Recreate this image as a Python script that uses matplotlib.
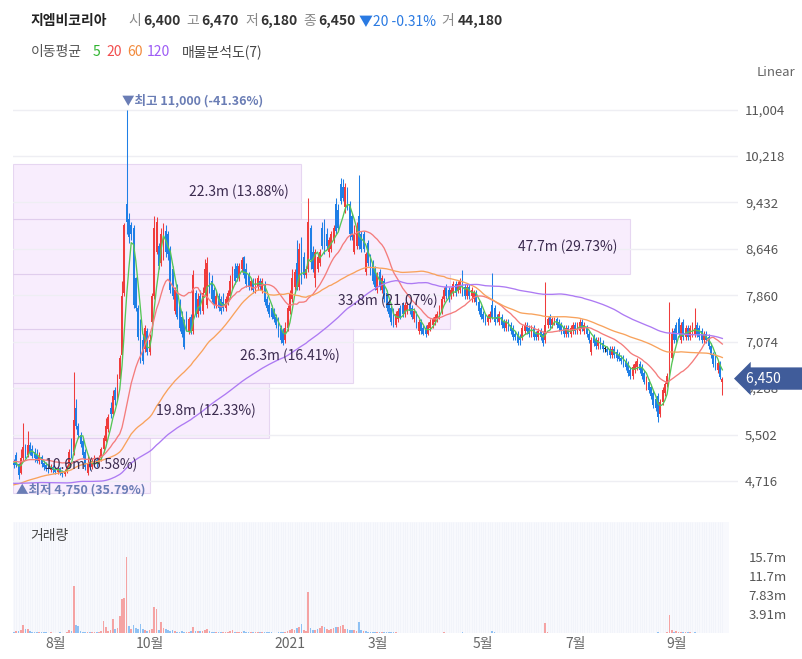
import numpy as np
import pandas as pd
import matplotlib
matplotlib.use("Agg")
import matplotlib.pyplot as plt
import matplotlib.transforms as mtransforms
from matplotlib.patches import Rectangle

plt.rcParams['font.family'] = ['Noto Sans CJK KR', 'DejaVu Sans']

name = "지엠비코리아"

# daily candles, Jul 2020 .. Sep 2021 (one line per month)
opens = [
    5020, 5150, 5000, 4850, 5100, 5300, 5150, 5330, 5250, 5200, 5150, 5060, 5120, 5020, 4980, 4950, 4900, 4960,
    4920, 4870, 4930, 4870, 4830, 4880, 4950, 5400, 5200, 5950, 5650, 5500, 5400, 5200, 4850, 5000, 4950, 5000, 5080, 5000,
    5100, 5250, 5400, 5600, 5950, 5850, 6250, 6100, 6450, 6850, 7900, 9400, 9150, 9050, 9000, 8150, 7650, 7400, 7100, 6950, 7250,
    6900, 7400, 7850, 8600, 8700, 8400, 8500, 8950, 8900, 8650, 8300, 7600, 7950, 7700, 7500, 7400, 7550, 7250, 7500, 7250, 7900, 7550,
    7850, 7600, 7900, 7700, 8200, 8100, 7950, 7700, 7850, 7800, 7750, 7650, 7750, 7850, 8000, 8300, 8350, 8150, 8300, 8500,
    8300, 8200, 8000, 8100, 7950, 8000, 8100, 7950, 8050, 7800, 7700, 7650, 7600, 7500, 7450, 7300, 7250, 7100, 7300,
    7600, 7800, 8000, 8400, 8000, 8750, 8500, 8200, 8300, 9000, 8600, 8150, 8300, 8400, 9000, 9050, 8900, 8600, 8650,
    8800, 9400, 9300, 9750, 9700, 9350, 9600, 9400, 9200, 8600, 8700, 9200, 8900, 8900, 8250, 8750, 8500, 8400, 8300,
    7950, 8250, 7950, 8100, 7900, 7750, 7650, 7600, 7350, 7450, 7650, 7700, 7550, 7600, 7700, 7650, 7450, 7550, 7250, 7400, 7300, 7300, 7200,
    7300, 7350, 7400, 7450, 7500, 7600, 7800, 8000, 7950, 7850, 7900, 8050, 7950, 7950, 8100, 8000, 7850, 8000, 7850, 7800, 7900, 7750, 7650,
    7550, 7500, 7400, 7450, 7700, 7650, 7500, 7400, 7500, 7400, 7300, 7400, 7350, 7300, 7200, 7200, 7150, 7150, 7250, 7350,
    7300, 7200, 7300, 7200, 7150, 7250, 7200, 7100, 7350, 7500, 7350, 7400, 7450, 7400, 7350, 7300, 7200, 7300, 7200, 7250,
    7350, 7250, 7250, 7400, 7250, 7300, 7200, 6900, 7150, 7100, 7000, 7100, 7050, 6950, 6950, 6950, 6850, 6950, 6900, 6850, 6800, 6800,
    6750, 6700, 6600, 6500, 6600, 6650, 6700, 6650, 6550, 6300, 6400, 6300, 6200, 6100, 6150, 5850, 6050, 6200, 6350, 6500, 6800, 7250,
    7350, 7450, 7100, 7400, 7150, 7300, 7150, 7200, 7200, 7350, 7300, 7250, 7100, 7200, 7150, 7000, 6850, 6850, 6600, 6700, 6400,
]
highs = [
    5090, 5200, 5020, 5250, 5700, 5350, 5560, 5380, 5330, 5270, 5250, 5200, 5150, 5080, 5030, 5000, 5000, 4990,
    4950, 4960, 4950, 4900, 4920, 4990, 5250, 5450, 6560, 6100, 5700, 5550, 5450, 5250, 5150, 5050, 5100, 5150, 5120, 5150,
    5300, 5500, 5780, 5850, 6050, 6260, 6300, 6520, 6850, 8100, 9080, 11000, 9250, 9100, 9050, 8170, 7700, 7450, 7200, 7350, 7300,
    7200, 7900, 9200, 9180, 8750, 9000, 9080, 9050, 8950, 8700, 8350, 8000, 8050, 7800, 7600, 7450, 7600, 7500, 7550, 8290, 7950, 7900,
    7950, 8000, 8470, 8500, 8250, 8200, 8000, 7950, 7900, 7850, 7900, 7850, 7950, 8200, 8350, 8400, 8400, 8400, 8500, 8520,
    8400, 8250, 8150, 8150, 8150, 8200, 8150, 8150, 8100, 7850, 7750, 7700, 7650, 7550, 7500, 7350, 7300, 7400, 7700,
    7950, 8300, 8300, 8800, 8750, 8850, 8600, 8350, 9500, 9050, 8700, 8650, 8550, 8650, 9100, 9150, 9000, 8850, 8950,
    9050, 9500, 9400, 9850, 9820, 9760, 9700, 9450, 9250, 9050, 9100, 9900, 8950, 8950, 8600, 8800, 8550, 8450, 8350,
    8250, 8300, 8200, 8150, 7950, 7800, 7700, 7650, 7600, 7650, 7700, 7750, 7750, 7750, 7750, 7700, 7650, 7600, 7450, 7450, 7350, 7350, 7400,
    7450, 7500, 7550, 7600, 7700, 7850, 8000, 8050, 8000, 8000, 8100, 8100, 8100, 8150, 8290, 8050, 8050, 8050, 8000, 7950, 7950, 7800, 7700,
    7600, 7550, 7550, 7600, 8240, 7700, 7550, 7600, 7550, 7450, 7450, 7450, 7400, 7350, 7250, 7250, 7200, 7350, 7400, 7400,
    7350, 7350, 7350, 7250, 7300, 7300, 7250, 8090, 7500, 7550, 7500, 7500, 7500, 7450, 7400, 7350, 7350, 7350, 7350, 7400,
    7400, 7400, 7450, 7450, 7400, 7350, 7250, 7150, 7200, 7150, 7150, 7150, 7100, 7000, 7000, 7000, 7000, 7000, 6950, 6900, 6850, 6850,
    6800, 6750, 6650, 6700, 6750, 6800, 6750, 6700, 6600, 6500, 6450, 6350, 6250, 6150, 6200, 6100, 6300, 6400, 6550, 7740, 7300, 7300,
    7400, 7500, 7400, 7450, 7350, 7350, 7350, 7400, 7640, 7400, 7350, 7300, 7250, 7250, 7200, 7050, 6900, 6900, 6750, 6750, 6470,
]
lows = [
    4930, 4950, 4750, 4830, 5050, 5100, 5120, 5150, 5100, 5030, 5020, 5000, 4960, 4900, 4880, 4860, 4870, 4850,
    4830, 4840, 4820, 4790, 4800, 4850, 4930, 5100, 5150, 5600, 5450, 5300, 5100, 4900, 4820, 4900, 4920, 4970, 4950, 4970,
    5050, 5200, 5380, 5550, 5780, 5820, 6000, 6080, 6400, 6800, 7850, 8900, 8750, 8800, 7650, 7600, 7100, 6720, 6700, 6900, 6850,
    6850, 7350, 7800, 8550, 8300, 8350, 8450, 8500, 8450, 7900, 7800, 7550, 7450, 7250, 7150, 6950, 7250, 7200, 7200, 7200, 7500, 7500,
    7550, 7550, 7850, 7650, 7900, 7750, 7650, 7650, 7600, 7550, 7600, 7600, 7700, 7800, 7950, 8050, 8100, 8100, 8250, 8150,
    8000, 7950, 7950, 7900, 7900, 7950, 7950, 7900, 7700, 7600, 7500, 7450, 7400, 7300, 7150, 7050, 7020, 7050, 7250,
    7550, 7750, 7950, 7950, 7950, 8050, 8150, 8150, 8250, 8300, 8250, 8000, 8250, 8350, 8650, 8550, 8650, 8500, 8600,
    8750, 8900, 8950, 9400, 9450, 9250, 9300, 8800, 8800, 8550, 8650, 8650, 8600, 8600, 8200, 8350, 8200, 8050, 7950,
    7900, 7950, 7900, 7750, 7600, 7500, 7350, 7320, 7320, 7400, 7450, 7500, 7500, 7550, 7550, 7450, 7400, 7300, 7200, 7200, 7180, 7150, 7180,
    7250, 7300, 7350, 7400, 7450, 7550, 7750, 7800, 7750, 7800, 7850, 7850, 7900, 7900, 7850, 7800, 7800, 7800, 7750, 7750, 7700, 7550, 7450,
    7400, 7350, 7350, 7400, 7450, 7350, 7400, 7350, 7300, 7250, 7250, 7250, 7200, 7100, 7100, 7020, 7020, 7100, 7200, 7200,
    7150, 7150, 7100, 7100, 7100, 7100, 7000, 7050, 7300, 7300, 7300, 7350, 7300, 7250, 7200, 7150, 7150, 7150, 7150, 7200,
    7200, 7200, 7200, 7250, 7200, 7150, 7050, 6850, 7000, 6950, 6950, 6950, 6900, 6900, 6850, 6800, 6800, 6800, 6750, 6750, 6700, 6650,
    6600, 6500, 6450, 6450, 6550, 6600, 6550, 6450, 6350, 6250, 6200, 6100, 5950, 5900, 5720, 5800, 6000, 6150, 6300, 6450, 6750, 7050,
    7050, 7150, 7050, 7100, 7100, 7100, 7100, 7150, 7150, 7150, 7100, 7050, 7050, 7050, 6950, 6800, 6650, 6600, 6550, 6450, 6180,
]
closes = [
    4980, 4990, 4820, 5100, 5300, 5150, 5320, 5200, 5140, 5100, 5060, 5130, 5000, 4950, 4920, 4900, 4960, 4900,
    4870, 4920, 4860, 4830, 4890, 4950, 5200, 5150, 5750, 5650, 5500, 5350, 5150, 4950, 5000, 4950, 5050, 5080, 5000, 5100,
    5250, 5450, 5650, 5800, 5850, 6150, 6080, 6450, 6800, 7850, 9050, 9100, 8850, 8900, 7700, 7650, 7150, 6800, 6750, 7300, 6900,
    7100, 7850, 9000, 9100, 8350, 8900, 9000, 8600, 8550, 7950, 7850, 7950, 7500, 7300, 7200, 6980, 7300, 7450, 7250, 8200, 7550, 7800,
    7600, 7900, 8300, 8400, 7950, 7800, 7700, 7850, 7650, 7600, 7650, 7800, 7900, 8100, 8300, 8100, 8150, 8350, 8450, 8200,
    8050, 8000, 8100, 7950, 8100, 8150, 8000, 8100, 7750, 7650, 7550, 7500, 7450, 7350, 7200, 7100, 7050, 7300, 7650,
    7900, 8150, 8250, 8000, 8650, 8100, 8200, 8300, 9100, 8450, 8300, 8600, 8500, 8600, 8700, 8600, 8700, 8800, 8900,
    9000, 8950, 9000, 9450, 9500, 9700, 9350, 8900, 8850, 8900, 9000, 8700, 8650, 8650, 8550, 8400, 8250, 8100, 8000,
    8200, 8000, 8150, 7800, 7650, 7550, 7400, 7350, 7550, 7600, 7500, 7550, 7700, 7700, 7600, 7500, 7600, 7350, 7400, 7250, 7200, 7200, 7350,
    7400, 7450, 7500, 7550, 7650, 7800, 7950, 7850, 7800, 7950, 8050, 7900, 8050, 8100, 7900, 7850, 8000, 7850, 7950, 7900, 7750, 7600, 7500,
    7450, 7400, 7500, 7550, 7500, 7400, 7450, 7550, 7350, 7300, 7400, 7300, 7250, 7150, 7150, 7050, 7100, 7300, 7350, 7250,
    7200, 7300, 7150, 7150, 7250, 7150, 7050, 7350, 7450, 7350, 7450, 7450, 7350, 7300, 7250, 7200, 7300, 7200, 7300, 7350,
    7250, 7350, 7400, 7300, 7350, 7200, 7100, 7100, 7050, 7000, 7100, 7000, 6950, 6950, 6900, 6850, 6950, 6850, 6800, 6780, 6750, 6700,
    6650, 6550, 6500, 6650, 6700, 6750, 6600, 6500, 6400, 6450, 6250, 6150, 6000, 5950, 5800, 6050, 6250, 6350, 6500, 7200, 7200, 7100,
    7100, 7200, 7350, 7150, 7300, 7150, 7300, 7350, 7300, 7200, 7150, 7100, 7200, 7100, 7000, 6850, 6700, 6650, 6720, 6470, 6450,
]
# volume in millions of shares
volumes = [
    0.3, 0.4, 0.5, 0.6, 1.7, 0.8, 0.9, 0.4, 0.3, 0.3, 0.2, 0.3, 0.2, 0.2, 0.2, 0.1, 0.2, 0.1,
    0.1, 0.1, 0.2, 0.1, 0.1, 0.2, 0.6, 0.5, 9.7, 1.6, 1.5, 0.4, 0.3, 0.3, 0.3, 0.2, 0.2, 0.3, 0.2, 0.3,
    0.5, 2.5, 1.2, 0.5, 0.7, 2.8, 0.9, 1.0, 3.5, 7.0, 7.2, 15.7, 1.5, 0.8, 1.6, 1.0, 0.9, 1.9, 0.8, 0.6, 0.5,
    0.6, 0.9, 5.4, 4.9, 0.6, 2.3, 1.0, 0.8, 0.6, 0.5, 0.6, 0.4, 0.3, 0.3, 0.4, 0.3, 0.3, 0.3, 0.4, 1.2, 0.5, 0.4,
    0.4, 0.5, 0.6, 0.8, 0.5, 0.3, 0.3, 0.3, 0.3, 0.2, 0.2, 0.3, 0.3, 0.5, 0.6, 0.3, 0.2, 0.3, 0.3, 0.4,
    0.3, 0.3, 0.2, 0.2, 0.2, 0.2, 0.3, 0.2, 0.2, 0.2, 0.2, 0.2, 0.1, 0.1, 0.2, 0.2, 0.2, 0.3, 0.4,
    0.6, 0.8, 0.6, 1.0, 1.2, 1.8, 0.7, 0.5, 8.5, 1.0, 0.7, 0.6, 0.9, 1.0, 1.5, 1.2, 0.8, 0.6, 0.9,
    1.0, 1.2, 1.2, 1.4, 1.7, 0.8, 0.9, 0.7, 0.6, 0.6, 0.5, 2.3, 0.6, 0.5, 0.4, 0.3, 0.3, 0.3, 0.2,
    0.3, 0.2, 0.2, 0.3, 0.2, 0.2, 0.3, 0.2, 0.2, 0.1, 0.1, 0.1, 0.1, 0.1, 0.1, 0.1, 0.1, 0.1, 0.1, 0.1, 0.1, 0.1, 0.1,
    0.1, 0.1, 0.1, 0.1, 0.1, 0.1, 0.2, 0.1, 0.1, 0.1, 0.1, 0.1, 0.1, 0.1, 0.3, 0.1, 0.1, 0.1, 0.1, 0.1, 0.1, 0.1, 0.1,
    0.1, 0.1, 0.1, 0.1, 0.4, 0.2, 0.1, 0.1, 0.1, 0.1, 0.1, 0.1, 0.1, 0.1, 0.1, 0.1, 0.1, 0.1, 0.1, 0.1,
    0.1, 0.1, 0.1, 0.1, 0.1, 0.1, 0.1, 2.0, 0.3, 0.1, 0.1, 0.1, 0.1, 0.1, 0.1, 0.1, 0.1, 0.1, 0.1, 0.1,
    0.1, 0.1, 0.1, 0.1, 0.1, 0.1, 0.1, 0.1, 0.1, 0.1, 0.1, 0.1, 0.1, 0.1, 0.1, 0.1, 0.1, 0.1, 0.1, 0.1, 0.1, 0.1,
    0.1, 0.1, 0.1, 0.1, 0.1, 0.1, 0.1, 0.1, 0.1, 0.1, 0.1, 0.1, 0.1, 0.1, 0.2, 0.1, 0.1, 0.1, 0.2, 3.8, 0.6, 0.3,
    0.4, 0.3, 0.2, 0.3, 0.2, 0.2, 0.2, 0.1, 0.2, 0.1, 0.1, 0.1, 0.1, 0.1, 0.1, 0.1, 0.1, 0.1, 0.1, 0.1, 0.04418,
]
# closes before the visible window (only feed the moving averages)
prior_closes = [
    4900, 4950, 5000, 4980, 4920, 4960, 5010, 5050, 4990, 4940, 4900, 4930, 4980, 5020, 5060, 5000, 4950, 4910, 4890, 4940,
    4990, 5030, 4980, 4950, 4920, 4970, 5010, 4960, 4930, 4900, 4950, 5000, 5040, 4990, 4950, 4920, 4960, 4980, 4940, 4900,
    4700, 4500, 4300, 4150, 4050, 4000, 4100, 4200, 4150, 4100, 4050, 4150, 4250, 4200, 4150, 4100, 4200, 4300, 4250, 4200,
    4300, 4350, 4400, 4450, 4400, 4350, 4400, 4450, 4500, 4450, 4400, 4350, 4300, 4350, 4400, 4450, 4500, 4550, 4500, 4450,
    4400, 4350, 4400, 4450, 4400, 4350, 4300, 4350, 4400, 4450, 4500, 4450, 4400, 4450, 4500, 4550, 4600, 4650, 4700, 4750,
    4800, 4900, 5000, 5100, 5050, 5000, 5050, 5100, 5150, 5100, 5050, 5000, 5050, 5100, 5050, 5000, 5050, 5100, 5050, 5000,
]

month_pos = [18, 59, 120, 158, 204, 244, 288]
month_labels = ["8월", "10월", "2021", "3월", "5월", "7월", "9월"]
price_ticks = [4716, 5502, 6288, 7074, 7860, 8646, 9432, 10218, 11004]
vol_ticks = [3.91, 7.83, 11.7, 15.7]
vol_tick_labels = ["3.91m", "7.83m", "11.7m", "15.7m"]

ma_windows = [5, 20, 60, 120]
ma_colors = ["#56c656", "#f47c7c", "#f8a25c", "#ad7af3"]
ma_label_colors = ["#2fb42f", "#f24e4e", "#f28a3c", "#9d5cf5"]

# volume profile (매물분석도): 7 price bands
band_edges = [4518, 5444, 6370, 7296, 8222, 9148, 10074, 11000]
band_vol = [10.6, 19.8, 26.3, 33.8, 47.7, 22.3, 0.0]
band_pct = [6.58, 12.33, 16.41, 21.07, 29.73, 13.88, 0.0]

RED = "#f03c3c"
BLUE = "#1f7fe6"

W, H = 803, 659
fig = plt.figure(figsize=(W / 100, H / 100), dpi=100)
ax = fig.add_axes([13 / W, (H - 505) / H, (738 - 13) / W, (505 - 88) / H])
axv = fig.add_axes([13 / W, (H - 633) / H, (729 - 13) / W, (633 - 522) / H])

o = np.array(opens, float)
h = np.array(highs, float)
l = np.array(lows, float)
c = np.array(closes, float)
v = np.array(volumes, float)
n = len(c)
idx = np.arange(n)

colors = np.where(c > o, RED, np.where(c < o, BLUE, "#222222"))

# volume profile boxes
blend = mtransforms.blended_transform_factory(ax.transAxes, ax.transData)
vmax = max(band_vol)
for lo_, hi_, bv, bp in zip(band_edges[:-1], band_edges[1:], band_vol, band_pct):
    if bv <= 0:
        continue
    wfrac = 0.851 * bv / vmax
    ax.add_patch(Rectangle((0, lo_), wfrac, hi_ - lo_, transform=blend,
                           facecolor="#f5e4fc", alpha=0.65, edgecolor="#dcc6ea",
                           lw=0.8, zorder=0.3))
    ax.text(wfrac - 13 / 725, (lo_ + hi_) / 2, f"{bv}m ({bp:.2f}%)", transform=blend,
            ha="right", va="center", fontsize=10, color="#3b2b4f", zorder=4)

# candles
ax.vlines(idx, l, h, colors=colors, lw=0.75, zorder=2)
ax.bar(idx, np.maximum(np.abs(c - o), 12), bottom=np.minimum(o, c), width=0.8,
       color=colors, lw=0, zorder=2)

# moving averages
allc = pd.Series(prior_closes + closes, dtype=float)
for w, col in zip(ma_windows, ma_colors):
    ma = allc.rolling(w).mean().values[-n:]
    ax.plot(idx, ma, color=col, lw=0.95, zorder=3)

ax.set_xlim(-0.4, 314.8)
ax.set_ylim(4310, 11368)
ax.set_yticks(price_ticks)
ax.set_yticklabels([f"{t:,}" for t in price_ticks])
ax.yaxis.tick_right()
ax.tick_params(axis="y", length=0, pad=5, labelsize=9.5, labelcolor="#555555")
ax.set_xticks([])
ax.grid(axis="y", color="#eeeef3", lw=1)
ax.set_axisbelow(True)
for s in ax.spines.values():
    s.set_visible(False)

# high / low markers
last = closes[-1]
hi_i = int(np.argmax(h))
lo_i = int(np.argmin(l))
hi_v = highs[hi_i]
lo_v = lows[lo_i]
ax.annotate(f"▼최고 {hi_v:,} ({(last - hi_v) / hi_v * 100:.2f}%)", xy=(hi_i, hi_v),
            xytext=(-3.5, 1.5), textcoords="offset points", ha="left", va="bottom",
            fontsize=9, fontweight="bold", color="#6a7db5", zorder=5)
ax.annotate(f"▲최저 {lo_v:,} ({(last - lo_v) / lo_v * 100:.2f}%)", xy=(lo_i, lo_v),
            xytext=(-2, -3), textcoords="offset points", ha="left", va="top",
            fontsize=9, fontweight="bold", color="#6a7db5", zorder=5)

# last price tag
ax.annotate(f"{last:,}      ", xy=(1.0, last), xycoords=blend, xytext=(6, 0),
            textcoords="offset points", ha="left", va="center", fontsize=10,
            color="white", annotation_clip=False, zorder=6,
            bbox=dict(boxstyle="larrow,pad=0.3", fc="#405c9a", ec="none"))

# volume panel
prev = np.concatenate([[prior_closes[-1]], c[:-1]])
vcolors = np.where(c >= prev, "#f5a3a3", "#8fc1f3")
axv.set_facecolor("#f8f9fd")
axv.vlines(idx, 0, 23, color="#f0f2f9", lw=0.5, zorder=0)
axv.bar(idx, v, width=0.75, color=vcolors, lw=0, zorder=2)
axv.set_xlim(-0.4, 310.9)
axv.set_ylim(0, 22.9)
axv.set_yticks(vol_ticks)
axv.set_yticklabels(vol_tick_labels)
axv.yaxis.tick_right()
axv.tick_params(axis="y", length=0, pad=14, labelsize=9.5, labelcolor="#555555")
axv.set_xticks(month_pos)
axv.set_xticklabels(month_labels)
axv.tick_params(axis="x", length=0, pad=3, labelsize=10, labelcolor="#666666")
for s in axv.spines.values():
    s.set_visible(False)

# header
def fx(px):
    return px / W

def fy(py):
    return 1 - py / H

y1 = fy(21)
fig.text(fx(31), y1, name, fontsize=10, fontweight="bold", color="#222222", va="center")
head = [("시", opens[-1]), ("고", highs[-1]), ("저", lows[-1]), ("종", closes[-1])]
xs = [128, 186, 245, 303]
for (lab, val), xp in zip(head, xs):
    fig.text(fx(xp), y1, lab, fontsize=10, color="#8a8a8a", va="center")
    fig.text(fx(xp + 15), y1, f"{val:,}", fontsize=10, fontweight="bold", color="#333333", va="center")
chg = closes[-1] - closes[-2]
fig.text(fx(359), y1, f"{'▼' if chg < 0 else '▲'}{abs(chg)} {chg / closes[-2] * 100:.2f}%",
         fontsize=10, color="#2a7ae2", va="center")
fig.text(fx(441), y1, "거", fontsize=10, color="#8a8a8a", va="center")
fig.text(fx(458), y1, f"{int(round(volumes[-1] * 1e6)):,}", fontsize=10, fontweight="bold",
         color="#333333", va="center")

y2 = fy(52)
fig.text(fx(31), y2, "이동평균", fontsize=10, color="#555555", va="center")
for w, col, xp in zip(ma_windows, ma_label_colors, [93, 106, 127, 147]):
    fig.text(fx(xp), y2, str(w), fontsize=10, color=col, va="center")
fig.text(fx(182), y2, f"매물분석도({len(band_vol)})", fontsize=10, color="#444444", va="center")

fig.text(fx(757), fy(72), "Linear", fontsize=9.5, color="#666666", va="center")
fig.text(fx(30), fy(536), "거래량", fontsize=10, color="#444444", va="center")

fig.savefig("out.png", dpi=100)
